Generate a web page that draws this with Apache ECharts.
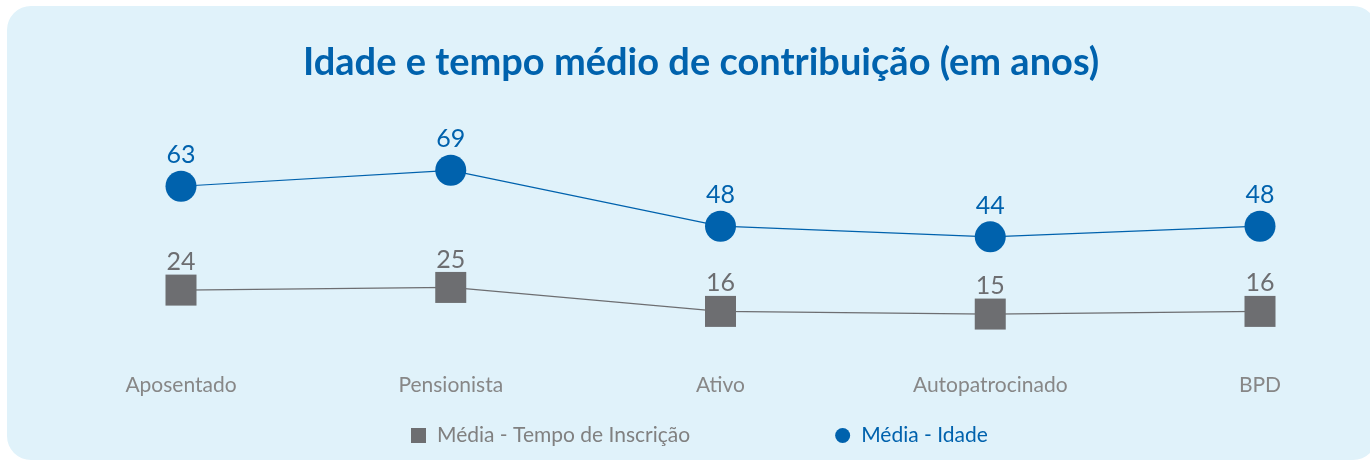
<!DOCTYPE html>
<html>
<head>
<meta charset="utf-8">
<title>Idade e tempo médio de contribuição</title>
<script src="https://cdn.jsdelivr.net/npm/echarts@6/dist/echarts.min.js"></script>
<style>
  html, body { margin: 0; padding: 0; background: #ffffff; }
  #panel {
    position: absolute; left: 7px; top: 6px; width: 1370px; height: 454px;
    background: #e0f2fa; border-radius: 24px;
  }
  #chart { position: absolute; left: 0; top: 0; width: 1370px; height: 461px; }
</style>
</head>
<body>
<div id="panel"></div>
<div id="chart"></div>
<script>
// dados
const categorias = ['Aposentado', 'Pensionista', 'Ativo', 'Autopatrocinado', 'BPD'];
const mediaIdade = [63, 69, 48, 44, 48];
const mediaTempoInscricao = [24, 25, 16, 15, 16];

const AZUL = '#0062ad';
const CINZA = '#6d6e71';

const chart = echarts.init(document.getElementById('chart'));

chart.setOption({
  backgroundColor: 'transparent',
  textStyle: { fontFamily: 'Lato' },
  title: {
    text: 'Idade e tempo médio de contribuição (em anos)',
    left: 303,
    top: 44,
    padding: 0,
    textStyle: { color: AZUL, fontSize: 38, fontWeight: 'bold', fontFamily: 'Lato' }
  },
  grid: { left: 181, right: 110, top: 141, bottom: 107 },
  legend: {
    bottom: 10,
    left: 406,
    itemGap: 145,
    itemWidth: 15,
    itemHeight: 15,
    textStyle: { fontSize: 21, fontFamily: 'Lato', padding: [0, 0, 0, 6] },
    data: [
      { name: 'Média - Tempo de Inscrição', icon: 'rect', textStyle: { color: '#808080' } },
      { name: 'Média - Idade', icon: 'circle', textStyle: { color: AZUL } }
    ]
  },
  xAxis: {
    type: 'category',
    boundaryGap: false,
    data: categorias,
    axisLine: { show: false },
    axisTick: { show: false },
    axisLabel: { color: '#878787', fontSize: 21, margin: 21, fontFamily: 'Lato' }
  },
  yAxis: {
    type: 'value',
    min: 0,
    max: 80,
    show: false,
    splitLine: { show: false }
  },
  series: [
    {
      name: 'Média - Tempo de Inscrição',
      type: 'line',
      data: mediaTempoInscricao,
      symbol: 'rect',
      symbolSize: 31,
      itemStyle: { color: CINZA },
      lineStyle: { color: CINZA, width: 1.2 },
      label: { show: true, position: 'top', distance: 0, color: CINZA, fontSize: 25, fontFamily: 'Lato' }
    },
    {
      name: 'Média - Idade',
      type: 'line',
      data: mediaIdade,
      symbol: 'circle',
      symbolSize: 31,
      itemStyle: { color: AZUL },
      lineStyle: { color: AZUL, width: 1.2 },
      label: { show: true, position: 'top', distance: 3, color: AZUL, fontSize: 25, fontFamily: 'Lato' }
    }
  ]
});
</script>
</body>
</html>
